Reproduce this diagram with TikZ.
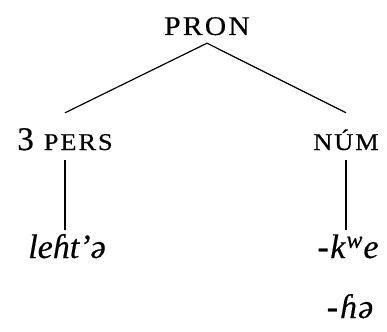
\documentclass[tikz,border=0pt]{standalone}
\usepackage{fontspec}
\setmainfont[FakeBold=0.4]{Liberation Serif}
\newfontfamily\scf[LetterSpace=8,FakeStretch=1.1,FakeBold=0.4]{Liberation Serif}
\newfontfamily\itf[FakeBold=0.4]{Liberation Serif}
\begin{document}
\begin{tikzpicture}[x=1pt,y=-1pt,
  lab/.style={inner sep=0pt,anchor=base,text depth=0pt},
  sclab/.style={lab,font=\fontsize{24}{24}\scf},
  itlab/.style={lab,font=\fontsize{34}{34}\itf\itshape},
  edge/.style={line width=1.2pt}]
\useasboundingbox (0,0) rectangle (387,331);
\node[lab,font=\fontsize{27}{27}\scf,text depth=8pt] (pron) at (207,35) {PRON};
\node[lab,text height=37pt,text depth=10pt] (pers) at (65,150) {\fontsize{33}{33}\selectfont 3\hspace{10pt}{\fontsize{24}{24}\scf PERS}};
\node[sclab,text height=37pt,text depth=10pt] (num) at (346,150) {NÚM};
\node[itlab,text height=28pt] (leh) at (67,258) {leɦt’ə};
\node[itlab,text height=28pt] (kwe) at (348,258) {-\hspace{1.5pt}k\hspace{1pt}\raisebox{0.3em}{\fontsize{24}{24}\itf\itshape w}\hspace{1pt}e};
\node[itlab] (he) at (350,318) {-\hspace{2pt}ɦ\hspace{1pt}ə};
\draw[edge] (pron.south) -- (pers.north);
\draw[edge] (pron.south) -- (num.north);
\draw[edge] (pers.south) -- (pers.south |- leh.north);
\draw[edge] (num.south) -- (num.south |- kwe.north);
\end{tikzpicture}
\end{document}
